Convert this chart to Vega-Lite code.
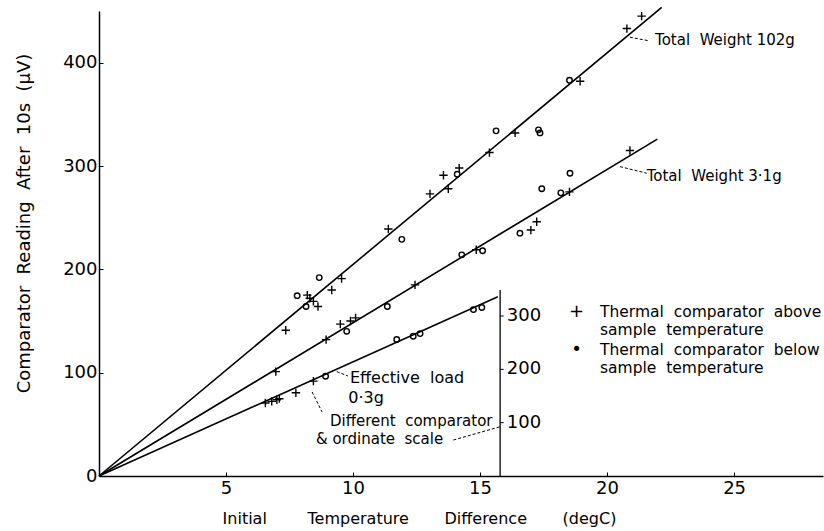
{
  "$schema": "https://vega.github.io/schema/vega-lite/v6.json",
  "width": 724,
  "height": 465,
  "autosize": {"type": "none"},
  "padding": {"left": 99, "top": 11, "right": 1, "bottom": 55},
  "background": "white",
  "config": {
    "view": {"stroke": null},
    "font": "DejaVu Sans",
    "axis": {"grid": false}
  },
  "datasets": {
    "points": [
      {"series": "102g", "type": "above", "x": 7.35, "y": 141},
      {"series": "102g", "type": "above", "x": 8.2, "y": 175},
      {"series": "102g", "type": "above", "x": 8.3, "y": 172},
      {"series": "102g", "type": "above", "x": 8.44, "y": 169},
      {"series": "102g", "type": "above", "x": 8.62, "y": 164},
      {"series": "102g", "type": "above", "x": 9.16, "y": 180},
      {"series": "102g", "type": "above", "x": 9.55, "y": 191},
      {"series": "102g", "type": "above", "x": 11.39, "y": 239},
      {"series": "102g", "type": "above", "x": 13.03, "y": 273},
      {"series": "102g", "type": "above", "x": 13.56, "y": 291},
      {"series": "102g", "type": "above", "x": 13.75, "y": 278},
      {"series": "102g", "type": "above", "x": 14.18, "y": 298},
      {"series": "102g", "type": "above", "x": 15.37, "y": 313},
      {"series": "102g", "type": "above", "x": 16.38, "y": 332},
      {"series": "102g", "type": "above", "x": 18.94, "y": 382},
      {"series": "102g", "type": "above", "x": 20.78, "y": 433},
      {"series": "102g", "type": "above", "x": 21.36, "y": 445},
      {"series": "102g", "type": "below", "x": 7.8, "y": 174.5},
      {"series": "102g", "type": "below", "x": 8.15, "y": 164},
      {"series": "102g", "type": "below", "x": 8.67, "y": 192},
      {"series": "102g", "type": "below", "x": 11.92, "y": 229},
      {"series": "102g", "type": "below", "x": 14.1, "y": 292},
      {"series": "102g", "type": "below", "x": 15.63, "y": 334},
      {"series": "102g", "type": "below", "x": 17.3, "y": 335},
      {"series": "102g", "type": "below", "x": 17.36, "y": 332},
      {"series": "102g", "type": "below", "x": 18.52, "y": 383},
      {"series": "31g", "type": "above", "x": 6.96, "y": 101},
      {"series": "31g", "type": "above", "x": 8.94, "y": 132},
      {"series": "31g", "type": "above", "x": 9.5, "y": 147},
      {"series": "31g", "type": "above", "x": 9.9, "y": 150},
      {"series": "31g", "type": "above", "x": 10.1, "y": 153},
      {"series": "31g", "type": "above", "x": 12.44, "y": 185},
      {"series": "31g", "type": "above", "x": 14.85, "y": 219},
      {"series": "31g", "type": "above", "x": 17.0, "y": 238},
      {"series": "31g", "type": "above", "x": 17.23, "y": 246},
      {"series": "31g", "type": "above", "x": 18.52, "y": 275},
      {"series": "31g", "type": "above", "x": 20.9, "y": 315},
      {"series": "31g", "type": "below", "x": 9.75, "y": 140},
      {"series": "31g", "type": "below", "x": 11.35, "y": 164},
      {"series": "31g", "type": "below", "x": 14.28, "y": 214},
      {"series": "31g", "type": "below", "x": 15.1, "y": 218},
      {"series": "31g", "type": "below", "x": 16.57, "y": 235},
      {"series": "31g", "type": "below", "x": 17.43, "y": 278},
      {"series": "31g", "type": "below", "x": 18.18, "y": 274},
      {"series": "31g", "type": "below", "x": 18.54, "y": 293}
    ],
    "points03": [
      {"series": "0.3g", "type": "above", "x": 6.55, "y": 137},
      {"series": "0.3g", "type": "above", "x": 6.8, "y": 140},
      {"series": "0.3g", "type": "above", "x": 7.0, "y": 143},
      {"series": "0.3g", "type": "above", "x": 7.1, "y": 145},
      {"series": "0.3g", "type": "above", "x": 7.75, "y": 156},
      {"series": "0.3g", "type": "above", "x": 8.44, "y": 178},
      {"series": "0.3g", "type": "below", "x": 8.92, "y": 187},
      {"series": "0.3g", "type": "below", "x": 11.72, "y": 256},
      {"series": "0.3g", "type": "below", "x": 12.37, "y": 262},
      {"series": "0.3g", "type": "below", "x": 12.64, "y": 267},
      {"series": "0.3g", "type": "below", "x": 14.74, "y": 312},
      {"series": "0.3g", "type": "below", "x": 15.07, "y": 316}
    ],
    "lines": [
      {"series": "102g", "x": 0, "y": 0},
      {"series": "102g", "x": 22.15, "y": 453.5},
      {"series": "31g", "x": 0, "y": 0},
      {"series": "31g", "x": 21.98, "y": 326}
    ],
    "line03": [
      {"series": "0.3g", "x": 0, "y": 0},
      {"series": "0.3g", "x": 15.7, "y": 336}
    ],
    "notes": [
      {"x": 21.89, "y": 422, "size": 15, "text": "Total\u00a0\u00a0Weight 102g"},
      {"x": 21.56, "y": 290, "size": 15, "text": "Total\u00a0\u00a0Weight 3·1g"},
      {"x": 9.88, "y": 94.6, "size": 16, "text": "Effective\u00a0\u00a0load"},
      {"x": 9.81, "y": 75.2, "size": 16, "text": "0·3g"},
      {"x": 9.09, "y": 53.5, "size": 15, "text": "Different\u00a0\u00a0comparator"},
      {"x": 8.54, "y": 35.8, "size": 15, "text": "&\u00a0ordinate\u00a0\u00a0scale"},
      {"x": 19.72, "y": 159, "size": 15.5, "text": "Thermal\u00a0\u00a0comparator\u00a0\u00a0above"},
      {"x": 19.72, "y": 141.3, "size": 15.5, "text": "sample\u00a0\u00a0temperature"},
      {"x": 19.72, "y": 122, "size": 15.5, "text": "Thermal\u00a0\u00a0comparator\u00a0\u00a0below"},
      {"x": 19.72, "y": 104.3, "size": 15.5, "text": "sample\u00a0\u00a0temperature"}
    ],
    "keys": [
      {"x": 18.8, "y": 159, "text": "+"},
      {"x": 18.8, "y": 122, "text": "•"}
    ],
    "leaders": [
      {"x": 20.9, "y": 424.6, "x2": 21.6, "y2": 421.4},
      {"x": 20.51, "y": 299.4, "x2": 21.56, "y2": 293},
      {"x": 9.36, "y": 101, "x2": 9.8, "y2": 96.8},
      {"x": 8.39, "y": 81.3, "x2": 8.78, "y2": 62},
      {"x": 13.95, "y": 34.8, "x2": 15.79, "y2": 47.7}
    ],
    "secaxis": [
      {"x": 15.79, "y": 0, "y2": 349}
    ],
    "secticks": [
      {"x": 15.79, "x2": 15.93, "lx": 16.05, "y": 100, "label": "100"},
      {"x": 15.79, "x2": 15.93, "lx": 16.05, "y": 200, "label": "200"},
      {"x": 15.79, "x2": 15.93, "lx": 16.05, "y": 300, "label": "300"}
    ]
  },
  "layer": [
    {
      "layer": [
        {
          "data": {"name": "lines"},
          "mark": {"type": "line", "color": "#000", "strokeWidth": 1.6},
          "encoding": {
            "x": {
              "field": "x", "type": "quantitative",
              "scale": {"domain": [0, 28.5], "nice": false, "zero": false},
              "axis": {
                "values": [5, 10, 15, 20, 25],
                "title": "Initial\u00a0\u00a0\u00a0\u00a0\u00a0\u00a0\u00a0\u00a0Temperature\u00a0\u00a0\u00a0\u00a0\u00a0\u00a0\u00a0Difference\u00a0\u00a0\u00a0\u00a0\u00a0\u00a0\u00a0(degC)",
                "domainColor": "#000", "domainWidth": 1.5,
                "tickColor": "#000", "tickSize": -4, "tickWidth": 1,
                "labelFont": "DejaVu Sans", "labelFontSize": 18, "labelColor": "#000",
                "labelPadding": 7,
                "titleFont": "DejaVu Sans", "titleFontSize": 16, "titleFontWeight": "normal",
                "titleColor": "#000", "titleX": 320, "titleY": 42,
                "titleAlign": "center", "titleBaseline": "middle"
              }
            },
            "y": {
              "field": "y", "type": "quantitative",
              "scale": {"domain": [0, 450], "nice": false, "zero": false},
              "axis": {
                "values": [0, 100, 200, 300, 400],
                "title": "Comparator\u00a0\u00a0Reading\u00a0\u00a0After\u00a0\u00a010s\u00a0\u00a0(μV)",
                "domainColor": "#000", "domainWidth": 1.5,
                "tickColor": "#000", "tickSize": -4, "tickWidth": 1,
                "labelFont": "DejaVu Sans", "labelFontSize": 18, "labelColor": "#000",
                "labelPadding": 6,
                "titleFont": "DejaVu Sans", "titleFontSize": 18, "titleFontWeight": "normal",
                "titleColor": "#000", "titleX": -75, "titleY": 212,
                "titleAlign": "center", "titleBaseline": "middle", "titleAngle": -90
              }
            },
            "detail": {"field": "series"}
          }
        },
        {
          "data": {"name": "points"},
          "mark": {"type": "point", "filled": false, "stroke": "#000", "strokeWidth": 1.4, "opacity": 1},
          "encoding": {
            "x": {"field": "x", "type": "quantitative"},
            "y": {"field": "y", "type": "quantitative"},
            "shape": {
              "field": "type", "type": "nominal", "legend": null,
              "scale": {"domain": ["above", "below"], "range": ["M-1,0L1,0M0,-1L0,1", "circle"]}
            },
            "size": {
              "field": "type", "type": "nominal", "legend": null,
              "scale": {"domain": ["above", "below"], "range": [70, 30]}
            }
          }
        },
        {
          "data": {"name": "leaders"},
          "mark": {"type": "rule", "color": "#000", "strokeWidth": 1, "strokeDash": [3, 2]},
          "encoding": {
            "x": {"field": "x", "type": "quantitative"},
            "y": {"field": "y", "type": "quantitative"},
            "x2": {"field": "x2"},
            "y2": {"field": "y2"}
          }
        },
        {
          "data": {"name": "notes"},
          "mark": {"type": "text", "align": "left", "baseline": "middle", "font": "DejaVu Sans", "color": "#000"},
          "encoding": {
            "x": {"field": "x", "type": "quantitative"},
            "y": {"field": "y", "type": "quantitative"},
            "text": {"field": "text"},
            "size": {"field": "size", "type": "quantitative", "scale": null}
          }
        },
        {
          "data": {"name": "keys"},
          "mark": {"type": "text", "align": "center", "baseline": "middle", "font": "DejaVu Sans", "fontSize": 18, "color": "#000"},
          "encoding": {
            "x": {"field": "x", "type": "quantitative"},
            "y": {"field": "y", "type": "quantitative"},
            "text": {"field": "text"}
          }
        }
      ]
    },
    {
      "layer": [
        {
          "data": {"name": "line03"},
          "mark": {"type": "line", "color": "#000", "strokeWidth": 1.6},
          "encoding": {
            "x": {"field": "x", "type": "quantitative"},
            "y": {"field": "y", "type": "quantitative", "axis": null,
                  "scale": {"domain": [0, 872], "nice": false, "zero": false}},
            "detail": {"field": "series"}
          }
        },
        {
          "data": {"name": "points03"},
          "mark": {"type": "point", "filled": false, "stroke": "#000", "strokeWidth": 1.4, "opacity": 1},
          "encoding": {
            "x": {"field": "x", "type": "quantitative"},
            "y": {"field": "y", "type": "quantitative", "axis": null},
            "shape": {
              "field": "type", "type": "nominal", "legend": null,
              "scale": {"domain": ["above", "below"], "range": ["M-1,0L1,0M0,-1L0,1", "circle"]}
            },
            "size": {
              "field": "type", "type": "nominal", "legend": null,
              "scale": {"domain": ["above", "below"], "range": [70, 30]}
            }
          }
        },
        {
          "data": {"name": "secaxis"},
          "mark": {"type": "rule", "color": "#000", "strokeWidth": 1.3},
          "encoding": {
            "x": {"field": "x", "type": "quantitative"},
            "y": {"field": "y", "type": "quantitative", "axis": null},
            "y2": {"field": "y2"}
          }
        },
        {
          "data": {"name": "secticks"},
          "mark": {"type": "rule", "color": "#000", "strokeWidth": 1},
          "encoding": {
            "x": {"field": "x", "type": "quantitative"},
            "x2": {"field": "x2"},
            "y": {"field": "y", "type": "quantitative", "axis": null}
          }
        },
        {
          "data": {"name": "secticks"},
          "mark": {"type": "text", "align": "left", "baseline": "middle", "font": "DejaVu Sans", "fontSize": 18, "color": "#000"},
          "encoding": {
            "x": {"field": "lx", "type": "quantitative"},
            "y": {"field": "y", "type": "quantitative", "axis": null},
            "text": {"field": "label"}
          }
        }
      ]
    }
  ],
  "resolve": {"scale": {"y": "independent"}}
}
